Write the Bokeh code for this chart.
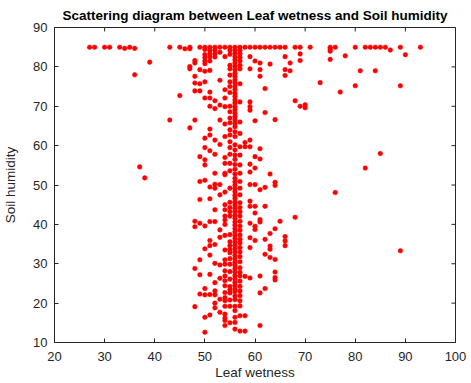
from bokeh.plotting import figure
from bokeh.models import FixedTicker
from bokeh.embed import file_html
from bokeh.resources import INLINE

# Soil humidity values per Leaf wetness column
h47 = [85, 84.6, 80.1, 79.5, 64.5]
h48 = [81.6, 81.0, 77.6, 75.9, 73.9, 66.5, 40.8, 39.4, 28.8, 19.1]
h49 = [85, 79.3, 75.7, 73.9, 57.2, 50.9, 46.3, 40.3, 31.0, 27.2, 22.3]
h50 = [85, 84.4, 83.1, 82.3, 81.5, 80.8, 78.9, 76.2, 72.1, 61.9, 59.5, 56.4, 55.1,
       51.2, 39.6, 33.8, 23.7, 22.1, 16.4, 12.6]
h51 = [85, 84.2, 83.3, 82.5, 81.5, 79.1, 73.6, 72.1, 70.0, 64.2, 62.7, 58.7, 49.5,
       46.5, 40.7, 35.9, 34.6, 32.2, 27.3, 22.2, 17.0]
h52 = [85, 84.2, 83.3, 82.5, 71.4, 69.4, 61.4, 57.8, 53.0, 50.2, 49.2, 43.7, 40.7,
       34.9, 30.1, 25.2, 23.1, 22.1, 20.0, 18.8]
h53 = [85, 83.7, 76.6, 70.3, 66.5, 60.3, 50.1, 47.5, 38.6, 36.7, 29.7, 26.3, 21.0, 17.7]
h54 = [85, 82.6, 74.2, 72.1, 69.9, 65.5, 62.3, 57.0, 55.5, 53.0, 52.6, 48.2, 45.0,
       43.7, 42.1, 41.1, 40.0, 37.2, 33.5, 31.0, 29.9, 28.2, 26.9, 25.7, 24.4, 22.7,
       21.4, 20.6, 19.2, 17.2, 16.2, 15.6, 14.3]
h55 = [85, 84.2, 83.2, 80.4, 79.5, 77.9, 76.2, 75.0, 73.5, 70.0, 68.6, 67.0, 65.8,
       64.0, 62.7, 61.0, 59.5, 57.8, 55.5, 53.6, 49.2, 45.6, 44.3, 43.2, 42.1, 37.4,
       35.6, 34.6, 33.6, 32.8, 31.3, 29.9, 28.0, 26.1, 24.2, 23.4, 22.6, 20.8, 19.2,
       15.0]
h56 = [85, 84.3, 83.5, 82.6, 81.8, 81.0, 80.1, 79.3, 78.4, 77.6, 76.7, 75.9, 75.0,
       74.2, 73.3, 72.5, 71.6, 70.8, 69.9, 69.1, 68.2, 67.4, 66.5, 65.6, 64.8, 63.5,
       62.3, 60.2, 58.9, 57.6, 56.5, 55.2, 54.0, 52.8, 51.7, 50.8, 50.0, 49.1, 48.3,
       47.4, 46.6, 45.7, 44.9, 44.0, 43.2, 42.3, 41.5, 40.6, 39.8, 38.9, 38.1, 37.2,
       36.4, 35.5, 34.7, 33.8, 33.0, 32.1, 31.3, 30.4, 29.6, 28.7, 27.9, 27.0, 26.2,
       25.3, 24.5, 23.6, 22.9, 21.8, 20.9, 19.2, 18.1, 16.4, 15.1, 13.4]
h57 = [85, 84.2, 83.3, 82.4, 81.5, 80.4, 79.5, 75.7, 71.1, 66.0, 63.1, 59.7, 57.6,
       55.1, 53.0, 50.9, 49.2, 47.5, 45.5, 44.3, 43.2, 42.1, 40.8, 39.6, 38.5, 37.3,
       36.2, 35.3, 34.1, 33.0, 31.8, 30.5, 29.0, 27.8, 26.9, 25.6, 24.3, 23.1, 21.9,
       20.6, 19.3, 16.8, 12.9]
h58 = [85, 60.8, 59.7, 26.8, 16.8, 12.9]
h59 = [85, 82.6, 79.5, 71.1, 69.9, 69.0, 61.4, 59.7, 55.3, 53.3, 50.1, 45.9, 44.6,
       40.3, 36.6, 34.1, 26.4]
h60 = [85, 81.5, 66.3, 57.2, 54.3, 50.1, 44.6, 42.9, 39.5, 38.7, 35.9]
h61 = [85, 81.0, 79.3, 77.6, 59.2, 56.6, 48.8, 41.2, 40.6, 26.9, 22.6, 14.3]
h62 = [85, 74.5, 68.4, 49.4, 44.6, 36.2, 32.4, 23.7]
h63 = [85, 80.7, 52.8, 37.7, 34.5, 33.7, 31.6]
h64 = [85, 66.6, 50.7, 49.9, 38.9, 31.1, 27.9, 26.5, 25.9]
h65 = [85, 40.8]
h66 = [85, 82.6, 79.3, 77.8, 36.9, 35.8, 34.6]
h67 = [81.0, 79.0]
h68 = [85, 71.4, 41.8]
h69 = [85, 83.3, 81.6, 70.0]

columns = [(47, h47), (48, h48), (49, h49), (50, h50), (51, h51), (52, h52),
           (53, h53), (54, h54), (55, h55), (56, h56), (57, h57), (58, h58),
           (59, h59), (60, h60), (61, h61), (62, h62), (63, h63), (64, h64),
           (65, h65), (66, h66), (67, h67), (68, h68), (69, h69)]

# Scattered points away from the dense band
far_x = [27, 28, 30, 31, 33, 34, 35, 36, 36, 37, 38, 39, 43, 43, 45, 45, 46,
         70, 70, 71, 73, 75, 75, 75, 75, 76, 76, 77, 78, 80, 80, 81, 82, 82, 83,
         84, 84, 85, 85, 86, 87, 89, 89, 89, 90, 93]
far_y = [85, 85, 85, 85, 85, 84.7, 85, 84.7, 78.0, 54.6, 51.8, 81.2, 85, 66.5, 85,
         72.7, 84.6, 70.4, 69.6, 85, 76.0, 85, 84.5, 84.0, 81.9, 85, 48.1, 73.6,
         82.8, 85, 75.2, 79.0, 85, 54.3, 85, 85, 79.0, 85, 58.0, 85, 84.3, 85,
         75.2, 33.3, 83.1, 85]

x_ticks = [20, 30, 40, 50, 60, 70, 80, 90, 100]
y_ticks = [10, 20, 30, 40, 50, 60, 70, 80, 90]

leaf_wetness = list(far_x)
soil_humidity = list(far_y)
for xv, ys in columns:
    leaf_wetness += [xv] * len(ys)
    soil_humidity += ys

FONT = "Liberation Sans"
AX = "#262626"
X0, X1, Y0, Y1 = 20, 100, 10, 90

p = figure(width=471, height=383, x_range=(X0, X1), y_range=(Y0, Y1),
           output_backend="svg", toolbar_location=None,
           title="Scattering diagram between Leaf wetness and Soil humidity",
           min_border_left=53, min_border_right=16, min_border_top=26,
           min_border_bottom=41)
p.title.text_font = FONT
p.title.text_font_size = "13.5px"
p.title.text_font_style = "bold"
p.title.align = "center"
p.title.text_color = "#000000"

p.xgrid.visible = False
p.ygrid.visible = False
p.outline_line_color = AX
p.background_fill_color = "white"
p.border_fill_color = "white"

for ax, ticks in ((p.xaxis[0], x_ticks), (p.yaxis[0], y_ticks)):
    ax.ticker = FixedTicker(ticks=ticks)
    ax.major_tick_in = 4
    ax.major_tick_out = 0
    ax.minor_tick_line_color = None
    ax.axis_line_color = AX
    ax.major_tick_line_color = AX
    ax.major_label_text_font = FONT
    ax.major_label_text_font_size = "13px"
    ax.major_label_text_color = AX
    ax.axis_label_text_font = FONT
    ax.axis_label_text_font_size = "13.5px"
    ax.axis_label_text_font_style = "normal"
    ax.axis_label_text_color = AX

p.xaxis.axis_label = "Leaf wetness"
p.yaxis.axis_label = "Soil humidity"
p.xaxis.major_label_standoff = 9
p.yaxis.major_label_standoff = 7
p.xaxis.axis_label_standoff = 1
p.yaxis.axis_label_standoff = 12

# inward tick marks on the top and right edges of the box
tick_len_y = (Y1 - Y0) * 4 / 316
tick_len_x = (X1 - X0) * 4 / 402
p.segment(x0=x_ticks, y0=[Y1] * len(x_ticks), x1=x_ticks,
          y1=[Y1 - tick_len_y] * len(x_ticks), line_color=AX, line_width=1)
p.segment(x0=[X1] * len(y_ticks), y0=y_ticks, x1=[X1 - tick_len_x] * len(y_ticks),
          y1=y_ticks, line_color=AX, line_width=1)

p.scatter(leaf_wetness, soil_humidity, size=4.6, fill_color="#ff0000",
          line_color="#ff0000", line_width=0.5)

open("out.html", "w").write(file_html(p, INLINE))
